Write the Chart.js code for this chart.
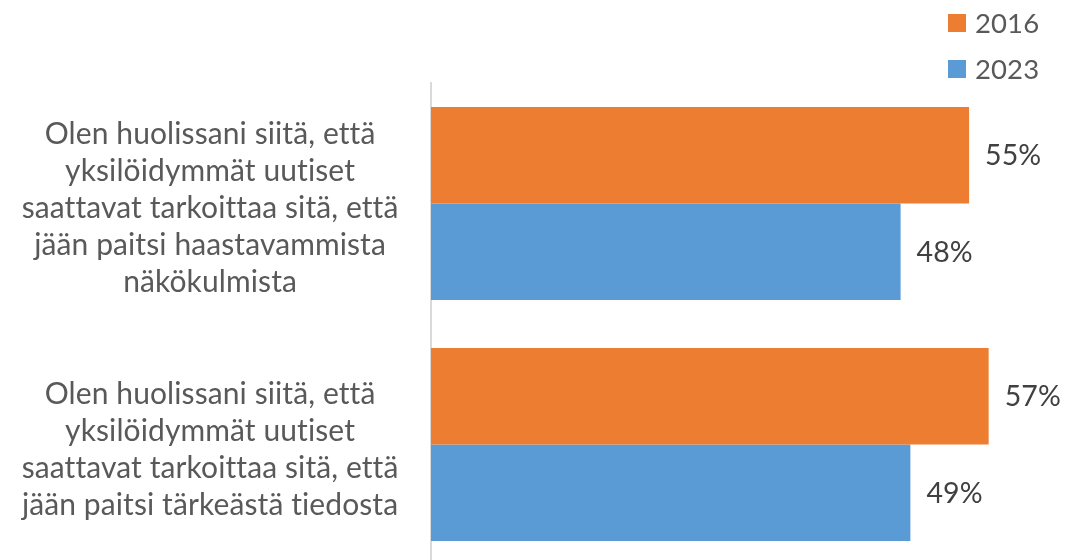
<!DOCTYPE html>
<html>
<head>
<meta charset="utf-8">
<script src="https://cdn.jsdelivr.net/npm/chart.js@4.4.1/dist/chart.umd.min.js"></script>
<style>
  html, body { margin: 0; padding: 0; background: #fff; overflow: hidden; }
  #wrap { position: relative; width: 1081px; height: 565px; }
</style>
</head>
<body>
<div id="wrap"><canvas id="c"></canvas></div>
<script>
// data
const categories = [
  ['Olen huolissani siitä, että', 'yksilöidymmät uutiset', 'saattavat tarkoittaa sitä, että', 'jään paitsi haastavammista', 'näkökulmista'],
  ['Olen huolissani siitä, että', 'yksilöidymmät uutiset', 'saattavat tarkoittaa sitä, että', 'jään paitsi tärkeästä tiedosta']
];
const seriesNames = ['2016', '2023'];
const values2016 = [55, 57];
const values2023 = [48, 49];
const seriesColors = ['#ED7D31', '#5B9BD5'];

const FONT = 'Lato, "Open Sans", sans-serif';

// tiny letter spacing switches off Lato's "ti" ligature
const noLigatures = {
  id: 'noLigatures',
  beforeDraw(chart) {
    try { chart.ctx.letterSpacing = '0.1px'; } catch (e) {}
  }
};

// value labels to the right of each bar
const valueLabels = {
  id: 'valueLabels',
  afterDatasetsDraw(chart) {
    const ctx = chart.ctx;
    ctx.save();
    ctx.font = '28.5px ' + FONT;
    ctx.fillStyle = '#404040';
    ctx.textAlign = 'left';
    ctx.textBaseline = 'middle';
    chart.data.datasets.forEach((ds, i) => {
      chart.getDatasetMeta(i).data.forEach((bar, j) => {
        ctx.fillText(ds.data[j] + '%', bar.x + 16, bar.y + 1);
      });
    });
    ctx.restore();
  }
};

// stacked legend in the top right corner
const stackedLegend = {
  id: 'stackedLegend',
  afterDraw(chart) {
    const ctx = chart.ctx;
    ctx.save();
    ctx.font = '27.5px ' + FONT;
    ctx.textBaseline = 'middle';
    chart.data.datasets.forEach((ds, i) => {
      const y = 23 + i * 46;
      ctx.fillStyle = ds.backgroundColor;
      ctx.fillRect(948, y - 9, 18, 18);
      ctx.fillStyle = '#595959';
      ctx.fillText(ds.label, 975, y + 1);
    });
    ctx.restore();
  }
};

new Chart(document.getElementById('c'), {
  type: 'bar',
  data: {
    labels: categories,
    datasets: [
      { label: seriesNames[0], data: values2016, backgroundColor: seriesColors[0] },
      { label: seriesNames[1], data: values2023, backgroundColor: seriesColors[1] }
    ]
  },
  options: {
    indexAxis: 'y',
    responsive: true,
    maintainAspectRatio: false,
    animation: false,
    layout: { padding: { top: 83, right: 63, bottom: 0, left: 0 } },
    datasets: { bar: { categoryPercentage: 0.8, barPercentage: 1.0 } },
    plugins: { legend: { display: false }, tooltip: { enabled: false } },
    scales: {
      x: { display: false, min: 0, max: 60 },
      y: {
        grid: { display: false, drawTicks: false },
        border: { display: true, color: '#D9D9D9', width: 2 },
        afterFit(scale) {
          scale.width = 431;
          // tall multi-line labels must not shrink the plot area
          scale.paddingTop = 0;
          scale.paddingBottom = 0;
        },
        ticks: {
          crossAlign: 'center',
          padding: 34,
          labelOffset: 5,
          color: '#595959',
          font: { family: FONT, size: 30, lineHeight: 37 / 30 }
        }
      }
    }
  },
  plugins: [noLigatures, valueLabels, stackedLegend]
});
</script>
</body>
</html>
